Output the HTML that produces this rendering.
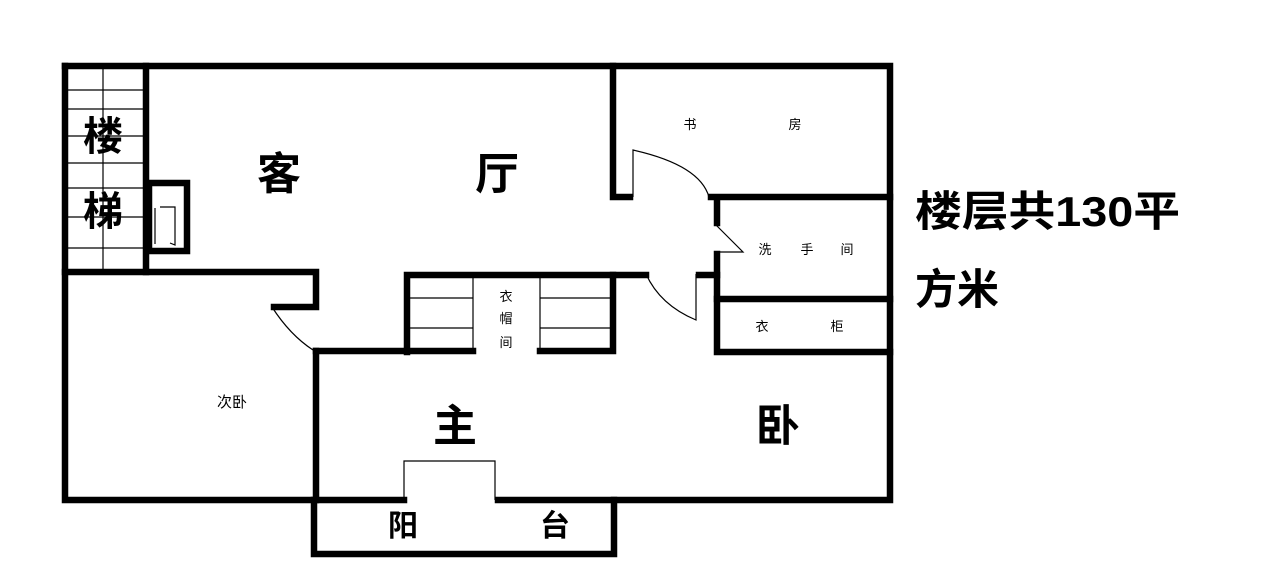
<!DOCTYPE html>
<html><head><meta charset="utf-8"><style>html,body{margin:0;padding:0;background:#fff}svg{display:block}</style></head>
<body>
<svg width="1278" height="568" viewBox="0 0 1278 568" xmlns="http://www.w3.org/2000/svg" font-family="'Liberation Sans','Noto Sans CJK SC',sans-serif">
<rect width="1278" height="568" fill="#fff"/>
<g stroke="#000" stroke-width="1.2" fill="none">
<!-- stair lines -->
<line x1="103" y1="66" x2="103" y2="272"/>
<line x1="66" y1="90" x2="146" y2="90"/><line x1="66" y1="109" x2="146" y2="109"/>
<line x1="66" y1="136" x2="146" y2="136"/><line x1="66" y1="163" x2="146" y2="163"/>
<line x1="66" y1="188" x2="146" y2="188"/><line x1="66" y1="217" x2="146" y2="217"/>
<line x1="66" y1="248" x2="146" y2="248"/>
<!-- closet lines -->
<line x1="473" y1="275" x2="473" y2="352"/><line x1="540" y1="275" x2="540" y2="352"/>
<line x1="410" y1="298" x2="473" y2="298"/><line x1="410" y1="328" x2="473" y2="328"/>
<line x1="540" y1="298" x2="610" y2="298"/><line x1="540" y1="328" x2="610" y2="328"/>
<!-- balcony opening -->
<polyline points="404,500 404,461 495,461 495,500"/>
<!-- doors -->
<path d="M272,307 Q290,335 313,350"/>
<path d="M633,197 L633,150 Q700,165 709,197"/>
<path d="M716,225 L743,252 L716,252"/>
<path d="M646,274 Q660,305 696,320 L696,274"/>
<path d="M155,208 L155,244 M160,207 L175,207 L175,245 L170,243"/>
</g>
<g stroke="#000" stroke-width="6.5" fill="none" stroke-linecap="square">
<!-- outer -->
<polyline points="65,66 890,66 890,500 498,500"/>
<polyline points="404,500 65,500 65,66"/>
<line x1="146" y1="66" x2="146" y2="272"/>
<polyline points="65,272 316,272 316,307 274,307"/>
<rect x="149" y="183" width="38" height="68"/>
<!-- master bedroom -->
<polyline points="316,351 404,351"/>
<line x1="316" y1="351" x2="316" y2="500"/>
<polyline points="314,500 314,554 614,554 614,500"/>
<!-- closet -->
<polyline points="407,352 407,275 646,275"/>
<line x1="407" y1="351" x2="473" y2="351"/>
<polyline points="540,351 613,351 613,275"/>
<!-- study -->
<polyline points="613,66 613,197 630,197"/>
<line x1="711" y1="197" x2="890" y2="197"/>
<line x1="717" y1="199" x2="717" y2="223"/>
<polyline points="717,254 717,352 890,352"/>
<line x1="699" y1="275" x2="717" y2="275"/>
<line x1="717" y1="299" x2="890" y2="299"/>
</g>
<g fill="#000" text-anchor="middle" font-weight="bold">
<text x="103" y="150" font-size="40">楼</text>
<text x="103" y="225" font-size="40">梯</text>
<text x="279" y="189" font-size="44">客</text>
<text x="497" y="189" font-size="44">厅</text>
<text x="455" y="441" font-size="44">主</text>
<text x="778" y="441" font-size="44">卧</text>
<text x="403" y="536" font-size="30">阳</text>
<text x="555" y="536" font-size="30">台</text>
</g>
<g fill="#000" text-anchor="middle" font-size="13">
<text x="690" y="129">书</text><text x="795" y="129">房</text>
<text x="765" y="254">洗</text><text x="807" y="254">手</text><text x="847" y="254">间</text>
<text x="762" y="331">衣</text><text x="837" y="331">柜</text>
<text x="506" y="301">衣</text><text x="506" y="323">帽</text><text x="506" y="347">间</text>
<text x="232" y="407" font-size="15">次卧</text>
</g>
<g fill="#000" font-weight="bold" font-size="42">
<text x="915" y="226" textLength="265" lengthAdjust="spacingAndGlyphs">楼层共130平</text>
<text x="915" y="304">方米</text>
</g>
</svg>
</body></html>
